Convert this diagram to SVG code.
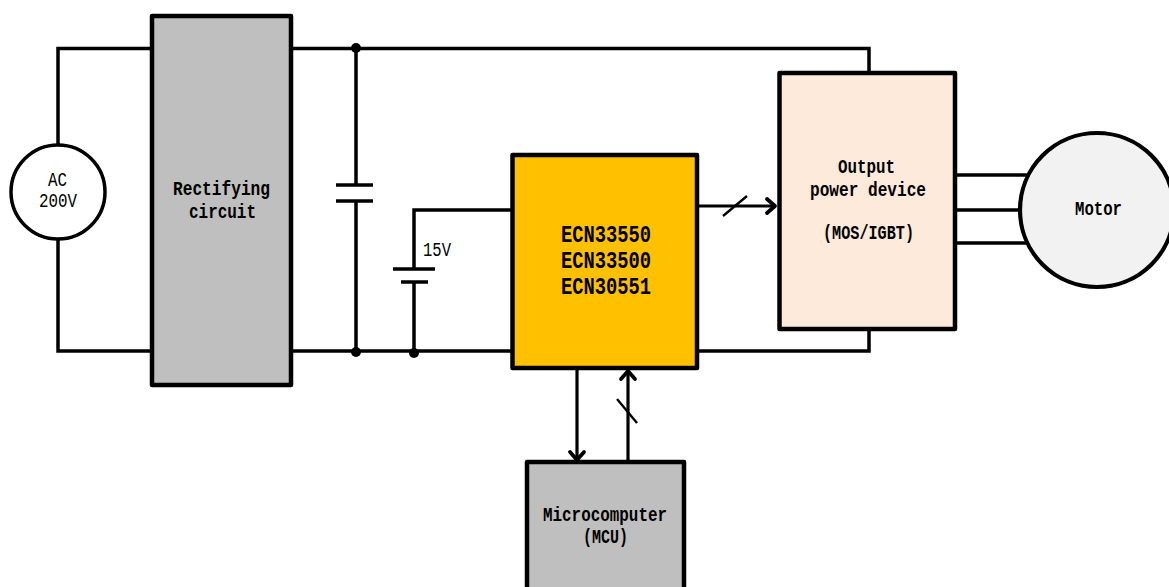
<svg xmlns="http://www.w3.org/2000/svg" width="1169" height="587" viewBox="0 0 1169 587">
<style>
.w{fill:none;stroke:#000;stroke-width:3.5}
.t{fill:none;stroke:#000;stroke-width:3.2}
.s{fill:none;stroke:#000;stroke-width:2.4}
.b{stroke:#000;stroke-width:4.5;stroke-linejoin:round}
.c{stroke:#000;stroke-width:3.5}
.m{stroke:#000;stroke-width:4.2}
.d{fill:#000}
text{font-family:"Liberation Mono","DejaVu Sans Mono",monospace;fill:#000;text-anchor:start}
.l{font-size:21px;font-weight:bold}
.r{font-size:21px}
.e{font-size:23px;font-weight:bold}
</style>
<defs>
<marker id="a" markerUnits="userSpaceOnUse" markerWidth="20" markerHeight="20" refX="15" refY="10" orient="auto">
<path d="M7 3L15 10L7 17" fill="none" stroke="#000" stroke-width="3.8" stroke-linecap="round" stroke-linejoin="round"/>
</marker>
</defs>
<g id="connectors">
<path class="w" d="M152 48.500H58V145M58 239V351H152"/>
<path class="w" d="M291 48.500H869V73M291 351H512M697 351H869V329"/>
<path class="w" d="M356 48V185M336 185H373M336 201H373M356 201V351"/>
<path class="w" d="M512 210H414V269M393 269H435M401 282H428M414 282V353"/>
<path class="w" d="M955 175H1030M955 210H1020M955 243H1030"/>
<path class="t" d="M697 206H775" marker-end="url(#a)"/>
<path class="s" d="M723 216L747 196"/>
<path class="t" d="M577 368V460" marker-end="url(#a)"/>
<path class="t" d="M628 462V371" marker-end="url(#a)"/>
<path class="s" d="M617 399L637 423"/>
<circle class="d" cx="356" cy="48" r="5"/>
<circle class="d" cx="356" cy="352" r="5"/>
<circle class="d" cx="414" cy="353" r="5"/>
</g>
<g id="ac-source">
<circle class="c" cx="58" cy="192" r="47" fill="#fff"/>
<text class="r" x="48" y="186" textLength="19" lengthAdjust="spacingAndGlyphs">AC</text>
<text class="r" x="39" y="207" textLength="38" lengthAdjust="spacingAndGlyphs">200V</text>
</g>
<g id="rectifying-circuit">
<rect class="b" x="152" y="16" width="139" height="369" fill="#bfbfbf"/>
<text class="l" x="173" y="195" textLength="97" lengthAdjust="spacingAndGlyphs">Rectifying</text>
<text class="l" x="189" y="218" textLength="67" lengthAdjust="spacingAndGlyphs">circuit</text>
</g>
<g id="label-15v">
<text class="r" x="423" y="256" textLength="28" lengthAdjust="spacingAndGlyphs">15V</text>
</g>
<g id="ecn-ic">
<rect class="b" x="512.500" y="155" width="184.500" height="213" fill="#ffc000"/>
<text class="e" x="561" y="242" textLength="90" lengthAdjust="spacingAndGlyphs">ECN33550</text>
<text class="e" x="561" y="268" textLength="90" lengthAdjust="spacingAndGlyphs">ECN33500</text>
<text class="e" x="561" y="294" textLength="90" lengthAdjust="spacingAndGlyphs">ECN30551</text>
</g>
<g id="output-power-device">
<rect class="b" x="779.500" y="73" width="175.500" height="256" fill="#fdeada"/>
<text class="l" x="838" y="173" textLength="57" lengthAdjust="spacingAndGlyphs">Output</text>
<text class="l" x="810" y="196" textLength="116" lengthAdjust="spacingAndGlyphs">power device</text>
<text class="l" x="823" y="239" textLength="91" lengthAdjust="spacingAndGlyphs">(MOS/IGBT)</text>
</g>
<g id="motor">
<circle class="m" cx="1097" cy="210" r="77" fill="#f2f2f2"/>
<text class="l" x="1075" y="215" textLength="47" lengthAdjust="spacingAndGlyphs">Motor</text>
</g>
<g id="microcomputer">
<rect class="b" x="527" y="462" width="157" height="140" fill="#bfbfbf"/>
<text class="l" x="543" y="521" textLength="124" lengthAdjust="spacingAndGlyphs">Microcomputer</text>
<text class="l" x="583" y="543" textLength="45" lengthAdjust="spacingAndGlyphs">(MCU)</text>
</g>
</svg>
